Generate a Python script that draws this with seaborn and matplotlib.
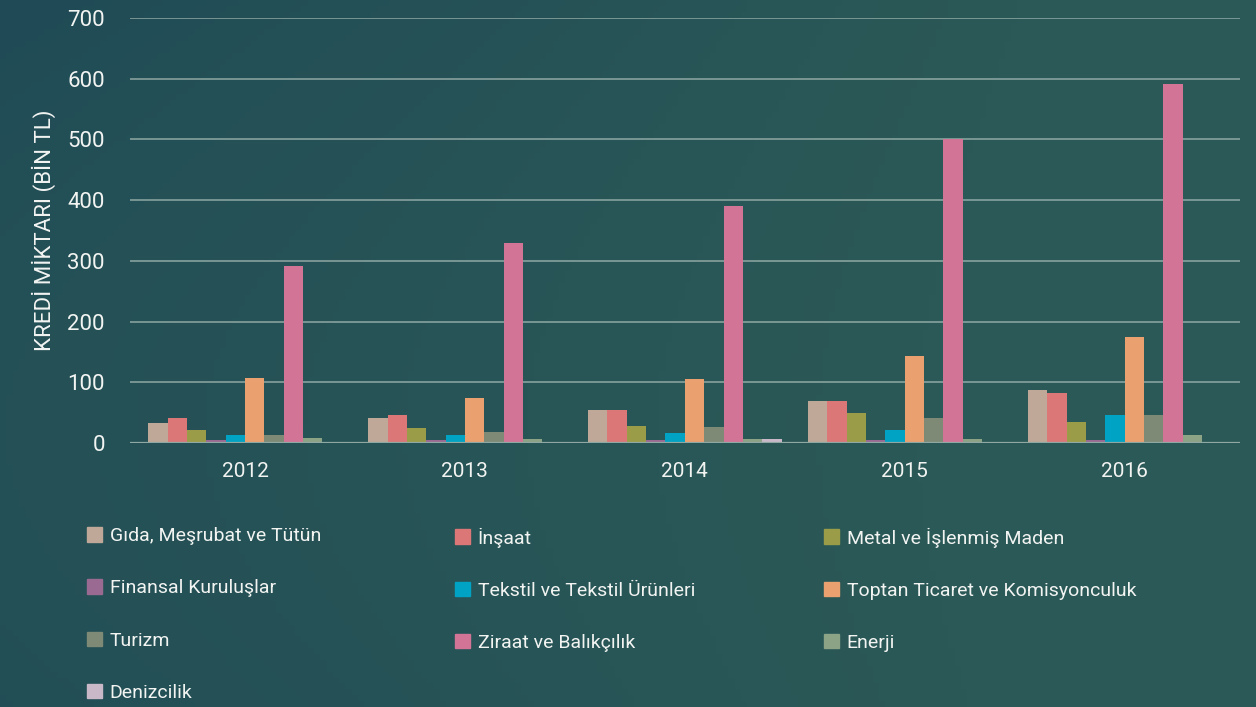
import numpy as np
import pandas as pd
import matplotlib.pyplot as plt
import matplotlib.patches as mpatches
from matplotlib.colors import LinearSegmentedColormap
import seaborn as sns

# ---------------------------------------------------------
# Data (bin TL)
# ---------------------------------------------------------
years = ['2012', '2013', '2014', '2015', '2016']
sectors = ['Gıda, Meşrubat ve Tütün', 'İnşaat', 'Metal ve İşlenmiş Maden',
           'Finansal Kuruluşlar', 'Tekstil ve Tekstil Ürünleri',
           'Toptan Ticaret ve Komisyonculuk', 'Turizm', 'Ziraat ve Balıkçılık',
           'Enerji', 'Denizcilik']

gida = [33, 41, 54, 69, 87]
insaat = [41, 46, 54, 70, 82]
metal = [21, 24, 28, 49, 34]
finansal = [4.5, 4.5, 4.5, 4.5, 4.5]
tekstil = [13, 13, 16, 21, 46]
toptan = [107, 74, 105, 143, 174]
turizm = [13, 18, 26, 41, 46]
ziraat = [291, 329, 390, 500, 591]
enerji = [8, 6, 6, 6, 13]
denizcilik = [0, 0, 6, 0, 0]

colors = ['#BFA897', '#DB7776', '#9A9C48', '#9A6A92', '#00A3C4',
          '#EAA06F', '#7E8A76', '#D27496', '#8DA386', '#C9B9C8']

series = [gida, insaat, metal, finansal, tekstil, toptan, turizm, ziraat, enerji, denizcilik]
rows = []
for name, vals in zip(sectors, series):
    for y, v in zip(years, vals):
        rows.append({'Yıl': y, 'Sektör': name, 'Kredi': v})
df = pd.DataFrame(rows)

# ---------------------------------------------------------
# Figure
# ---------------------------------------------------------
sns.set_theme(style='dark')
plt.rcParams['font.family'] = ['Roboto', 'DejaVu Sans']
text_col = '#F2F4F2'

fig = plt.figure(figsize=(12.56, 7.07), dpi=100)

# gradient background
bg = fig.add_axes([0, 0, 1, 1], zorder=-10)
xx, yy = np.meshgrid(np.linspace(0, 1, 200), np.linspace(0, 1, 120))
shade = np.clip(0.55 * (1 - xx) * (1 - yy) + 0.45 * (1 - xx) * yy ** 2 - 0.1, 0, 1)
cmap = LinearSegmentedColormap.from_list('bg', ['#2B5957', '#1C4656'])
bg.imshow(shade, cmap=cmap, aspect='auto', extent=[0, 1, 0, 1], vmin=0, vmax=0.6)
bg.axis('off')

ax = fig.add_axes([0.1035, 0.3734, 0.8835, 0.6011])
ax.set_facecolor('none')

sns.barplot(data=df, x='Yıl', y='Kredi', hue='Sektör', hue_order=sectors,
            palette=dict(zip(sectors, colors)), width=0.88, gap=0,
            saturation=1, linewidth=0, legend=False, ax=ax, zorder=3)

ax.set_xlim(-0.523, 4.523)
ax.set_ylim(0, 700)
ax.set_yticks(range(0, 701, 100))
ax.grid(axis='y', color='#8FA8A4', linewidth=1.1, zorder=0)
ax.grid(axis='x', visible=False)
for s in ax.spines.values():
    s.set_visible(False)
ax.axhline(0, color='#8FA8A4', linewidth=1.6, zorder=4)

ax.tick_params(axis='y', colors=text_col, labelsize=16, length=0, pad=18)
ax.tick_params(axis='x', colors=text_col, labelsize=15, length=0, pad=14)
ax.set_xlabel('')
ax.set_ylabel('KREDİ MİKTARI (BİN TL)', color=text_col, fontsize=16, labelpad=8)

# legend: three columns, filled row by row
col_x = [0.0693, 0.3623, 0.656]
for c in range(3):
    idx = list(range(c, len(sectors), 3))
    handles = [mpatches.Patch(color=colors[i], label=sectors[i]) for i in idx]
    fig.legend(handles=handles, loc='upper left', bbox_to_anchor=(col_x[c], 0.254),
               frameon=False, fontsize=14, labelcolor=text_col,
               handlelength=0.77, handleheight=0.77, handletextpad=0.4,
               labelspacing=1.75, borderaxespad=0, borderpad=0)

plt.savefig('out.png', dpi=100, facecolor='#2B5957')
